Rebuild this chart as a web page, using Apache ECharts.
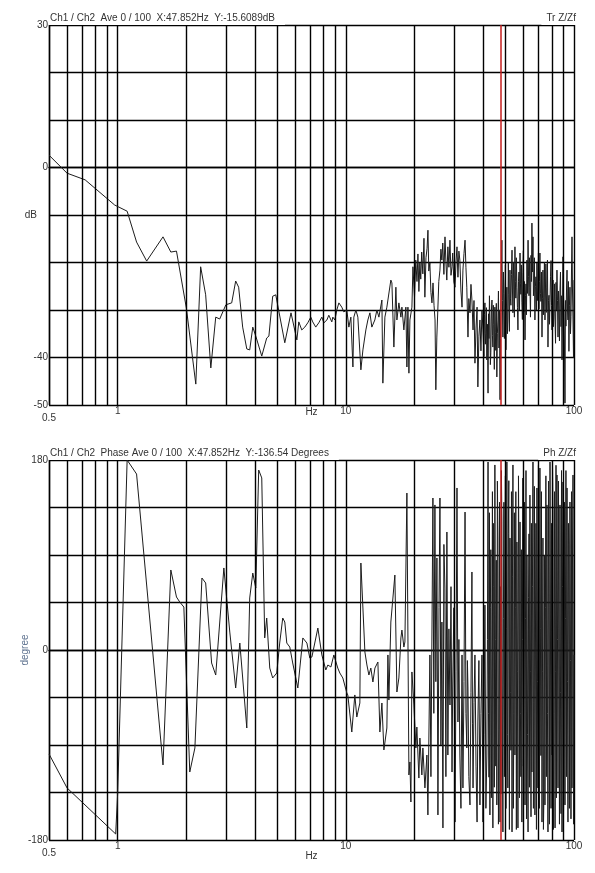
<!DOCTYPE html>
<html>
<head>
<meta charset="utf-8">
<script src="https://cdn.jsdelivr.net/npm/echarts@6/dist/echarts.min.js"></script>
<style>
html, body { margin: 0; padding: 0; background: #fff; }
#chart { width: 595px; height: 873px; }
</style>
</head>
<body>
<div id="chart"></div>
<script>
// transfer function magnitude, [Hz, dB]
const magData = [
  [0.5, 2.6], [0.6, -1.2], [0.72, -2.6], [0.97, -7.9], [1.1, -9.2], [1.21, -15.7], [1.34, -19.7],
  [1.58, -14.6], [1.71, -17.8], [1.81, -17.6], [2.0, -29.6], [2.2, -45.6], [2.31, -20.9], [2.43, -26.8],
  [2.56, -42.2], [2.69, -31.5], [2.8, -31.9], [2.98, -28.9], [3.16, -28.5], [3.29, -23.9], [3.39, -25.2],
  [3.53, -33.6], [3.68, -38.2], [3.79, -38.4], [3.91, -33.6], [4.03, -35.5], [4.11, -35.7], [4.28, -39.7],
  [4.5, -35.9], [4.6, -35.5], [4.78, -27.1], [4.93, -26.8], [5.4, -36.9], [5.75, -30.6], [6.1, -36.3],
  [6.22, -32.5], [6.41, -34.2], [6.61, -33.6], [6.81, -32.7], [7.02, -31.5], [7.16, -32.5], [7.38, -33.6],
  [7.61, -32.7], [7.85, -31.5], [8.01, -32.7], [8.26, -32.1], [8.42, -31.1], [8.68, -32.5], [8.77, -31.5],
  [8.95, -32.1], [9.13, -30.0], [9.32, -28.5], [9.6, -29.4], [9.8, -30.4], [10.1, -30.0], [10.31, -33.6],
  [10.52, -31.5], [10.74, -42.0], [10.84, -31.5], [11.07, -30.0], [11.29, -31.5], [11.64, -42.6],
  [11.88, -38.4], [12.24, -34.2], [12.49, -32.1], [12.75, -30.6], [13.0, -33.6], [13.4, -32.1],
  [13.68, -30.0], [13.96, -31.5], [14.39, -27.9], [14.53, -45.4], [14.83, -31.5], [15.13, -29.4],
  [15.29, -27.9], [15.75, -23.7], [15.92, -24.3], [16.24, -37.8], [16.57, -25.2], [16.74, -32.1],
  [17.08, -28.5], [17.43, -31.5], [17.61, -29.4], [17.96, -34.2], [18.33, -29.4], [18.52, -42.0],
  [18.71, -29.4], [18.9, -43.3], [19.09, -32.1], [19.48, -29.4], [19.68, -20.9],
  [20.0, -27.3], [20.25, -19.5], [20.5, -24.0], [20.7, -18.2], [20.9, -26.1], [21.1, -20.1], [21.3, -23.5],
  [21.5, -17.8], [21.75, -22.4], [22.0, -14.9], [22.2, -27.3], [22.45, -19.0], [22.7, -17.0], [22.9, -13.2],
  [23.1, -21.8], [23.35, -20.1], [23.6, -26.3], [23.85, -28.5], [24.1, -24.3], [24.35, -29.0], [24.6, -32.1],
  [24.8, -46.8], [25.05, -35.7], [25.3, -30.0], [25.55, -24.0], [25.85, -21.6], [26.1, -17.2], [26.35, -19.5],
  [26.6, -15.9], [26.9, -22.5], [27.2, -14.6], [27.45, -19.8], [27.7, -23.7], [28.0, -16.7], [28.3, -21.0],
  [28.6, -15.3], [28.9, -22.7], [29.2, -20.9], [29.4, -18.0], [29.75, -24.1], [30.1, -25.2], [30.4, -19.9],
  [30.7, -16.7], [31.0, -23.1], [31.3, -17.6], [31.6, -19.5], [31.95, -26.0], [32.3, -29.4], [32.6, -21.6],
  [32.95, -18.1], [33.3, -15.3], [33.6, -21.0], [33.9, -25.2], [34.3, -35.7], [34.6, -27.6], [35.0, -30.6],
  [35.35, -24.6], [35.7, -27.9], [36.1, -34.2], [36.45, -28.0], [36.8, -41.2], [37.2, -33.8], [37.6, -29.4],
  [37.9, -46.2], [38.3, -35.5], [38.7, -32.1], [39.1, -38.6], [39.5, -30.0], [39.9, -34.2],
  [40.3, -39.8], [40.5, -31.0], [40.7, -28.5], [40.9, -37.2], [41.1, -35.0], [41.3, -29.5], [41.5, -40.5],
  [41.75, -33.0], [42.0, -47.5], [42.2, -30.8], [42.4, -36.0], [42.6, -27.0], [42.8, -32.1], [43.0, -41.5],
  [43.2, -39.0], [43.45, -30.2], [43.7, -27.9], [43.9, -35.4], [44.1, -37.8], [44.3, -29.0], [44.5, -33.0],
  [44.75, -42.5], [45.0, -29.4], [45.2, -34.8], [45.4, -38.5], [45.65, -28.6], [45.9, -44.1], [46.15, -35.0],
  [46.4, -32.1], [46.65, -26.0], [46.9, -38.0], [47.15, -30.0], [47.4, -48.9], [47.6, -36.0], [47.8, -30.5],
  [48.05, -22.0], [48.3, -15.3], [48.55, -28.0], [48.8, -35.7], [49.05, -22.0], [49.3, -26.5], [49.55, -36.0],
  [49.8, -29.4], [50.05, -20.5], [50.3, -38.4], [50.55, -30.0], [50.8, -25.2], [51.05, -35.0], [51.3, -32.1],
  [51.55, -20.0], [51.8, -26.8], [52.1, -34.5], [52.4, -21.6], [52.65, -27.5], [52.9, -29.0], [53.2, -22.5],
  [53.5, -17.4], [53.75, -26.0], [54.0, -30.6], [54.25, -20.0], [54.5, -23.4], [54.8, -31.5], [55.1, -16.7],
  [55.35, -24.0], [55.6, -27.5], [55.9, -19.0], [56.2, -25.2], [56.5, -29.5], [56.8, -34.2], [57.1, -24.0],
  [57.4, -22.0], [57.7, -30.0], [58.0, -18.0], [58.25, -24.5], [58.5, -26.7], [58.8, -20.5], [59.1, -28.5],
  [59.4, -32.0], [59.7, -22.2], [60.0, -17.5], [60.3, -30.4], [60.65, -24.0], [61.0, -36.3], [61.3, -27.0],
  [61.6, -24.5], [61.9, -31.0], [62.2, -19.5], [62.55, -26.5], [62.9, -15.3], [63.2, -23.0], [63.5, -27.0],
  [63.8, -19.0], [64.1, -25.2], [64.45, -31.5], [64.8, -18.5], [65.1, -24.0], [65.4, -11.7], [65.75, -22.0],
  [66.1, -14.6], [66.4, -27.0], [66.7, -24.8], [67.05, -19.0], [67.4, -32.1], [67.75, -25.0], [68.1, -23.0],
  [68.45, -30.0], [68.8, -20.1], [69.15, -28.0], [69.5, -25.2], [69.85, -18.0], [70.2, -29.8], [70.55, -24.0],
  [70.9, -18.0], [71.25, -26.5], [71.6, -28.2], [72.0, -22.0], [72.4, -35.7], [72.75, -27.5], [73.1, -21.6],
  [73.45, -31.0], [73.8, -27.4], [74.2, -20.0], [74.6, -32.1], [74.95, -26.0], [75.3, -20.3], [75.7, -30.5],
  [76.1, -25.2], [76.5, -19.5], [76.9, -37.8], [77.3, -28.0], [77.7, -26.9], [78.1, -33.0], [78.5, -28.5],
  [78.9, -23.0], [79.3, -19.6], [79.7, -29.0], [80.1, -34.2], [80.5, -27.0], [80.9, -23.7], [81.3, -33.5],
  [81.7, -30.8], [82.15, -24.5], [82.6, -32.1], [83.0, -37.0], [83.4, -24.2], [83.8, -30.0], [84.2, -21.6],
  [84.65, -28.0], [85.1, -35.7], [85.5, -26.0], [85.9, -29.0], [86.35, -36.5], [86.8, -25.8], [87.25, -22.0],
  [87.7, -33.5], [88.15, -27.0], [88.6, -40.5], [89.05, -30.0], [89.5, -18.8], [89.95, -27.0], [90.4, -30.2],
  [90.85, -38.0], [91.3, -49.6], [91.75, -28.0], [92.2, -33.4], [92.7, -26.0], [93.2, -21.6], [93.65, -30.0],
  [94.1, -32.1], [94.55, -24.0], [95.0, -38.7], [95.5, -29.0], [96.0, -25.2], [96.5, -35.0], [97.0, -31.4],
  [97.5, -22.0], [98.0, -14.6], [98.5, -26.0], [99.0, -32.1], [99.5, -40.0], [100, -23.7]
];

// phase, [Hz, degree]
const phaseData = [
  [0.5, -98.5], [0.6, -130.7], [0.98, -174.3], [1.0, -135.5], [1.1, 180], [1.21, 166.7], [1.58, -108.9],
  [1.71, 75.8], [1.81, 50.2], [1.87, 45.5], [1.95, 40.7], [2.07, -115.6], [2.18, -92.8], [2.34, 68.2],
  [2.43, 63.5], [2.58, -12.3], [2.69, -23.7], [2.92, 77.7], [3.1, 17.0], [3.29, -36.0], [3.43, 6.6],
  [3.68, -73.9], [3.79, 49.3], [3.91, 72.9], [4.03, 58.7], [4.15, 170.5], [4.28, 163.0], [4.41, 11.4],
  [4.5, 30.3], [4.64, -17.1], [4.78, -26.5], [4.98, -21.8], [5.13, 6.6], [5.29, 30.3], [5.4, 26.5],
  [5.51, 6.6], [5.68, 2.8], [5.85, -12.3], [6.16, -36.0], [6.48, 11.4], [6.75, 6.6], [6.95, -7.6],
  [7.1, -6.6], [7.24, -6.6], [7.54, 20.8], [7.85, -4.7], [8.17, -18.9], [8.34, -14.2], [8.6, -16.1],
  [8.86, -4.7], [9.22, -17.1], [9.41, -21.8], [9.7, -26.5], [10.1, -40.7], [10.2, -42.6], [10.62, -77.7],
  [10.95, -42.6], [11.17, -63.5], [11.52, -50.2], [11.64, 82.4], [12.12, -1.9], [12.37, -14.2],
  [12.62, -23.7], [12.87, -17.1], [13.14, -30.3], [13.41, -17.1], [13.82, -11.4], [14.1, -77.7],
  [14.39, -50.2], [14.68, -94.7], [15.13, -73.9], [15.29, -4.7], [15.44, -47.4], [15.75, 26.5],
  [16.07, 26.5], [16.4, 71.0], [16.74, -39.8], [17.08, -26.5], [17.43, 11.4], [17.61, 18.9],
  [17.96, 2.8], [18.15, 7.6], [18.52, 148.7], [18.9, -118.4], [19.09, -106.1], [19.28, -144.0],
  [19.48, -20.8], [19.87, -52.1], [20.28, -92.8], [20.48, -73.0], [20.9, -121.3], [21.11, -83.4],
  [21.54, -118.4], [21.76, -92.8], [22.21, -130.7], [22.66, -99.5], [22.89, -156.3],
  [23.36, -4.7], [23.6, -120.0], [23.84, 14.2], [24.08, 144.0], [24.3, -60.0], [24.57, 137.4], [24.8, -30.0],
  [25.07, 87.2], [25.33, -156.3], [25.6, 40.0], [25.85, 144.0], [26.1, -90.0], [26.37, 26.5], [26.64, -168.6],
  [26.9, 100.0], [27.18, 58.7], [27.45, -120.0], [27.73, 111.8], [28.0, -99.5], [28.3, 20.0], [28.6, -52.1],
  [28.9, 60.0], [29.2, -115.6], [29.4, -36.0], [29.75, 40.0], [30.1, -163.0], [30.4, -20.0], [30.7, 153.5],
  [31.0, -68.2], [31.3, 10.0], [31.6, -99.5], [31.95, -150.0], [32.3, -4.7], [32.6, -130.7], [32.95, -30.0],
  [33.3, 130.7], [33.6, -60.0], [33.9, -92.8], [34.1, -10.0], [34.3, -36.0], [34.6, -120.0], [35.0, -146.8],
  [35.35, -40.0], [35.7, 73.9], [35.9, -70.0], [36.1, -130.7], [36.45, -50.0], [36.8, -4.7], [37.2, -110.0],
  [37.6, -163.0], [37.9, -68.2], [38.3, -10.0], [38.7, -146.8], [39.1, -60.0], [39.5, -4.7], [39.9, -163.0],
  [40.3, -80.0], [40.7, 42.6], [41.1, -150.0], [41.5, -99.5], [41.75, 10.0],
  [42.0, 178.1], [42.2, -60.0], [42.4, -120.5], [42.6, 130.0], [42.8, -156.3], [43.0, 40.0], [43.2, 95.0],
  [43.45, -140.0], [43.7, -4.7], [43.9, 150.0], [44.1, -168.6], [44.3, 120.0], [44.5, 60.2], [44.75, -130.0],
  [45.0, 175.3], [45.2, 10.0], [45.4, -110.0], [45.65, 85.0], [45.9, -146.8], [46.15, 160.0], [46.4, 106.1],
  [46.65, -165.0], [46.9, -75.0], [47.15, 140.0], [47.4, -163.0], [47.6, 60.0], [47.85, -136.5], [48.05, 170.0],
  [48.3, 121.3], [48.55, -90.0], [48.8, -172.4], [49.05, 30.0], [49.3, 140.0], [49.55, -120.0], [49.8, 58.7],
  [50.05, 165.0], [50.3, -150.2], [50.55, 20.0], [50.8, 178.1], [51.05, -80.0], [51.3, -130.7], [51.55, 110.0],
  [51.8, 160.4], [52.1, -170.0], [52.4, 106.1], [52.65, -40.0], [52.9, -95.0], [53.2, 150.0], [53.5, -172.4],
  [53.75, 70.0], [54.0, 175.3], [54.25, -150.0], [54.5, -60.3], [54.8, 130.0], [55.1, -99.5], [55.35, 40.0],
  [55.6, 150.0], [55.9, -170.0], [56.2, 102.3], [56.5, -20.0], [56.8, -168.6], [57.1, 165.0], [57.4, 80.5],
  [57.7, -140.0], [58.0, 121.3], [58.25, -60.0], [58.5, -120.0], [58.8, 95.0], [59.1, -163.0], [59.4, 10.0],
  [59.7, 162.9], [60.0, -110.0], [60.3, -40.0], [60.65, 140.0], [61.0, -146.8], [61.3, 30.0], [61.6, 170.0],
  [61.9, -160.0], [62.2, 90.0], [62.55, -80.0], [62.9, -172.4], [63.2, 50.0], [63.5, 110.0], [63.8, -130.0],
  [64.1, 146.8], [64.45, -20.0], [64.8, -158.0], [65.1, 120.0], [65.4, -115.6], [65.75, 60.0], [66.1, 178.1],
  [66.4, -150.0], [66.7, -50.0], [67.05, 155.0], [67.4, -156.3], [67.75, 0.0], [68.1, 120.0], [68.45, -170.0],
  [68.8, 153.5], [69.15, -30.0], [69.5, -130.7], [69.85, 175.0], [70.2, 60.0], [70.55, -150.0], [70.9, 172.4],
  [71.25, 20.0], [71.6, -100.0], [72.0, 150.0], [72.4, -163.0], [72.75, -20.0], [73.1, 106.1], [73.45, -170.0],
  [73.8, -140.0], [74.2, 90.0], [74.6, -146.8], [74.95, 40.0], [75.3, 165.0], [75.7, -120.0], [76.1, 137.4],
  [76.5, -60.0], [76.9, -172.4], [77.3, 160.0], [77.7, 40.0], [78.1, -165.0], [78.5, 178.1], [78.9, 0.0],
  [79.3, -150.0], [79.7, 120.0], [80.1, -99.5], [80.5, 175.0], [80.9, 130.7], [81.3, -170.0], [81.7, -60.0],
  [82.15, 150.0], [82.6, -168.6], [83.0, -20.0], [83.4, 175.0], [83.8, -140.0], [84.2, 165.8], [84.65, 10.0],
  [85.1, -130.7], [85.5, 160.0], [85.9, 20.0], [86.35, -165.0], [86.8, 137.4], [87.25, -40.0], [87.7, -155.0],
  [88.15, 170.0], [88.6, -172.4], [89.05, 60.0], [89.5, 159.2], [89.95, -160.0], [90.4, -90.0], [90.85, 140.0],
  [91.3, -146.8], [91.75, 30.0], [92.2, 170.0], [92.7, -120.0], [93.2, 153.5], [93.65, -30.0], [94.1, -163.0],
  [94.55, 120.0], [95.0, 100.0], [95.5, -150.0], [96.0, 140.2], [96.5, -10.0], [97.0, -160.0], [97.5, 150.0],
  [98.0, -130.7], [98.5, 90.0], [99.0, 165.8], [99.5, -165.0], [100, -4.7]
];

const minorGrid = [0.6, 0.7, 0.8, 0.9, 2, 3, 4, 5, 6, 7, 8, 9, 20, 30, 40, 50, 60, 70, 80, 90];
const freqLabels = [0.5, 1, 10, 100];
const magLabels = [30, 0, -40, -50];
const phaseLabels = [180, 0, -180];
const cursorHz = 47.852;

const font = '"Liberation Sans", Arial, sans-serif';
const ink = '#000';
const txt = '#333';
const gridWidth = 1.4;

const chart = echarts.init(document.getElementById('chart'));

function freqAxis(gridIndex, nameGap) {
  return {
    type: 'log',
    logBase: 10,
    gridIndex: gridIndex,
    min: 0.5,
    max: 100,
    name: 'Hz',
    nameLocation: 'middle',
    nameGap: nameGap,
    nameMoveOverlap: false,
    nameTextStyle: { color: txt, fontSize: 10, fontFamily: font },
    axisLine: { show: true, lineStyle: { color: ink, width: gridWidth } },
    axisTick: { show: false },
    splitLine: { show: true, lineStyle: { color: ink, width: gridWidth } },
    axisLabel: {
      color: txt,
      fontSize: 10,
      fontFamily: font,
      margin: 1,
      showMinLabel: true,
      showMaxLabel: true,
      formatter: function (v) {
        const t = freqLabels.find(f => Math.abs(f - v) < 1e-6);
        if (t === undefined) return '';
        return t === 0.5 ? '{low|0.5}' : String(t);
      },
      rich: { low: { padding: [7, 0, 0, 0], fontSize: 10, color: txt, fontFamily: font } }
    }
  };
}

function valueAxis(gridIndex, min, max, interval, labels, name, nameGap, nameRotate, nameColor) {
  return {
    type: 'value',
    gridIndex: gridIndex,
    min: min,
    max: max,
    interval: interval,
    name: name,
    nameLocation: 'middle',
    nameGap: nameGap,
    nameRotate: nameRotate,
    nameMoveOverlap: false,
    nameTextStyle: { color: nameColor, fontSize: 10, fontFamily: font },
    axisLine: { show: true, lineStyle: { color: ink, width: gridWidth } },
    axisTick: { show: false },
    splitLine: { show: true, lineStyle: { color: ink, width: gridWidth } },
    axisLabel: {
      color: txt,
      fontSize: 10,
      fontFamily: font,
      margin: 1,
      formatter: v => (labels.indexOf(v) >= 0 ? String(v) : '')
    }
  };
}

function markLines(idx, values, color, width, z) {
  return {
    type: 'line',
    xAxisIndex: idx,
    yAxisIndex: idx,
    data: [],
    z: z,
    silent: true,
    markLine: {
      symbol: 'none',
      silent: true,
      animation: false,
      label: { show: false },
      lineStyle: { color: color, width: width, type: 'solid', opacity: 1 },
      emphasis: { disabled: true },
      data: values.map(v => ({ xAxis: v }))
    }
  };
}

function trace(idx, data) {
  return {
    type: 'line',
    xAxisIndex: idx,
    yAxisIndex: idx,
    data: data,
    z: 3,
    symbol: 'none',
    showSymbol: false,
    silent: true,
    sampling: 'none',
    lineStyle: { color: '#1c1c1c', width: 1 }
  };
}

function headText(text, pos, top) {
  return Object.assign({
    text: text,
    top: top,
    backgroundColor: '#fff',
    textStyle: { fontSize: 10, fontWeight: 'normal', color: txt, fontFamily: font, lineHeight: 12 }
  }, pos);
}

const option = {
  animation: false,
  backgroundColor: '#fff',
  title: [
    headText('Ch1 / Ch2  Ave 0 / 100  X:47.852Hz  Y:-15.6089dB', { left: 49, padding: [2, 10, 1, 1] }, 10),
    headText('Tr Z/Zf', { right: 17, padding: [2, 2, 1, 5] }, 10),
    headText('Ch1 / Ch2  Phase Ave 0 / 100  X:47.852Hz  Y:-136.54 Degrees', { left: 49, padding: [2, 10, 1, 1] }, 445),
    headText('Ph Z/Zf', { right: 17, padding: [2, 2, 1, 5] }, 445)
  ],
  grid: [
    { left: 49, top: 25, width: 525, height: 380, containLabel: false },
    { left: 49, top: 460, width: 525, height: 380, containLabel: false }
  ],
  xAxis: [freqAxis(0, 2), freqAxis(1, 11)],
  yAxis: [
    valueAxis(0, -50, 30, 10, magLabels, 'dB', 12, 0, txt),
    valueAxis(1, -180, 180, 45, phaseLabels, 'degree', 19, 90, '#5f7390')
  ],
  series: [
    markLines(0, minorGrid, ink, gridWidth, 1), trace(0, magData), markLines(0, [cursorHz], '#c41e1e', 1.5, 5),
    markLines(1, minorGrid, ink, gridWidth, 1), trace(1, phaseData), markLines(1, [cursorHz], '#c41e1e', 1.5, 5)
  ]
};

chart.setOption(option);
</script>
</body>
</html>
